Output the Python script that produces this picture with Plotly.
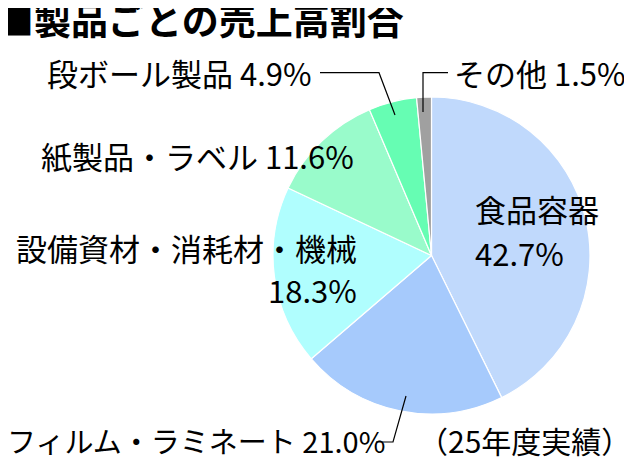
import plotly.graph_objects as go

# Page is shown in a 632x458 window; the browser's default 8px body margin
# offsets the figure, so the figure is 624x450 and screen coords are shifted by 8.
WIN_W, WIN_H = 632, 458
OFF = 8
W, H = WIN_W - OFF, WIN_H - OFF

categories = ["食品容器", "フィルム・ラミネート", "設備資材・消耗材・機械", "紙製品・ラベル", "段ボール製品", "その他"]
values = [42.7, 21.0, 18.3, 11.6, 4.9, 1.5]
colors = ["#C0D9FC", "#A6CAFC", "#B0FEFE", "#99FBCB", "#66FDB3", "#A0A0A0"]

title_text = "■製品ごとの売上高割合"
note_text = "（25年度実績）"

FONT = "Noto Sans CJK JP"


def px(x):
    return (x - OFF) / W


def py(y):
    return 1 - (y - OFF) / H


cx, cy, r = 431.5, 255.5, 158.5

fig = go.Figure(go.Pie(
    labels=categories,
    values=values,
    sort=False,
    direction="clockwise",
    rotation=0,
    textinfo="none",
    hoverinfo="label+percent",
    marker=dict(colors=colors, line=dict(color="white", width=1.2)),
    domain=dict(x=[px(cx - r), px(cx + r)], y=[py(cy + r), py(cy - r)]),
    showlegend=False,
))


def pct(i):
    return f"{values[i]:.1f}%"


def lab(i):
    return f"{categories[i]} {pct(i)}"


annotations = [
    dict(text=f"<b>{title_text}</b>", x=px(-5), y=py(19), xanchor="left", yanchor="middle",
         font=dict(size=37, family=FONT, color="black")),
    dict(text=lab(4), x=px(314), y=py(73), xanchor="right", yanchor="middle"),
    dict(text=lab(5), x=px(452), y=py(73), xanchor="left", yanchor="middle"),
    dict(text=lab(3), x=px(356), y=py(155), xanchor="right", yanchor="middle"),
    dict(text=categories[2], x=px(359), y=py(247), xanchor="right", yanchor="middle"),
    dict(text=pct(2), x=px(359), y=py(289), xanchor="right", yanchor="middle"),
    dict(text=categories[0], x=px(473), y=py(208), xanchor="left", yanchor="middle"),
    dict(text=pct(0), x=px(473), y=py(252), xanchor="left", yanchor="middle"),
    dict(text=lab(1), x=px(5), y=py(440), xanchor="left", yanchor="middle",
         font=dict(size=29, family=FONT, color="black")),
    dict(text=note_text, x=px(633), y=py(440), xanchor="right", yanchor="middle",
         font=dict(size=30, family=FONT, color="black")),
]
for a in annotations:
    a.setdefault("font", dict(size=31, family=FONT, color="black"))
    a.update(xref="paper", yref="paper", showarrow=False)


def path(points):
    return "M " + " L ".join(f"{px(x)},{py(y)}" for x, y in points)


leaders = [
    [(320, 72.7), (379, 72.7), (395, 115)],
    [(448, 72.7), (423, 72.7), (423, 112)],
    [(406, 396), (393, 442), (376, 442)],
]
shapes = [dict(type="path", path=path(p), xref="paper", yref="paper",
               line=dict(color="black", width=1.2)) for p in leaders]

fig.update_layout(
    width=W, height=H,
    margin=dict(l=0, r=0, t=0, b=0),
    paper_bgcolor="white", plot_bgcolor="white",
    annotations=annotations,
    shapes=shapes,
)

fig.write_html("out.html")
